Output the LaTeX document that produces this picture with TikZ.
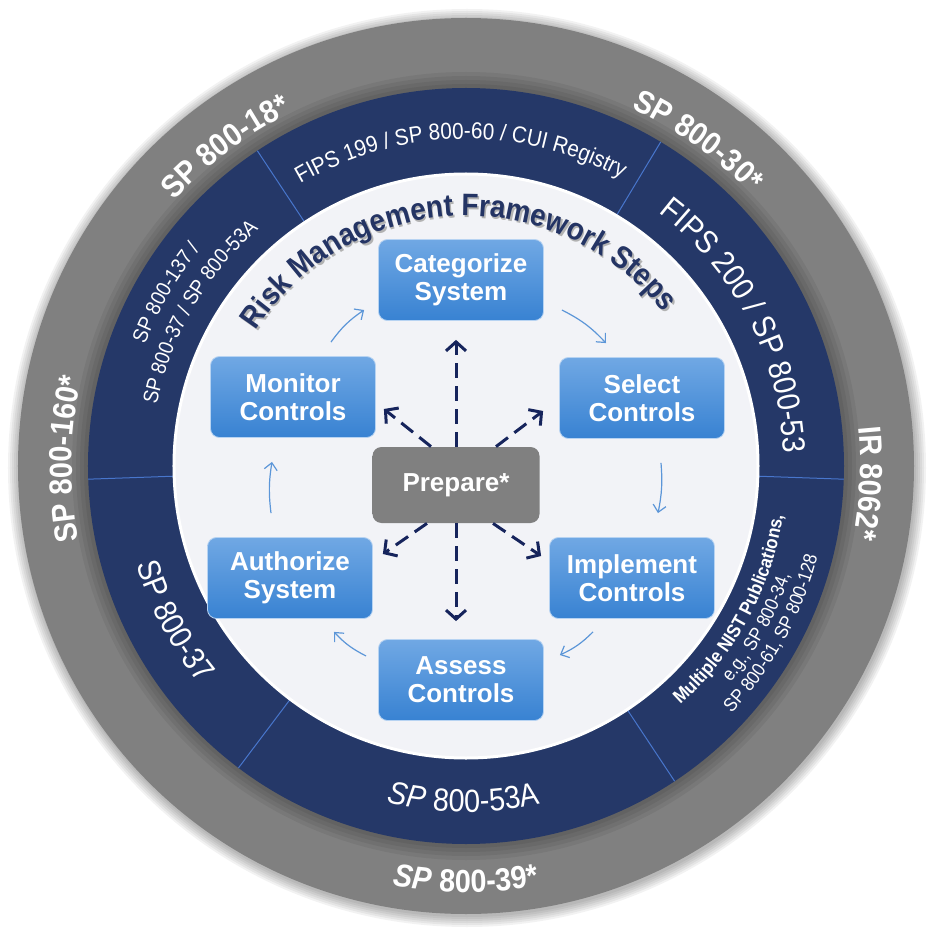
\documentclass[tikz,border=0pt]{standalone}
\usepackage{fontspec}
\setmainfont{Liberation Sans}
\newfontfamily\ringfont[FakeStretch=0.9]{Liberation Sans}
\usetikzlibrary{positioning,decorations.text,arrows.meta}

\definecolor{ringgray}{RGB}{128,128,128}
\definecolor{ringblue}{RGB}{37,56,104}
\definecolor{seamblue}{RGB}{72,118,204}
\definecolor{paper}{RGB}{242,243,247}
\definecolor{boxtop}{RGB}{112,168,228}
\definecolor{boxbot}{RGB}{56,130,210}
\definecolor{navy}{RGB}{22,36,92}
\definecolor{cycblue}{RGB}{92,150,216}
\definecolor{titlenavy}{RGB}{36,52,100}

\tikzset{
  stepbox/.style={draw=boxtop!50!white, line width=0.8pt, rounded corners=9pt,
    top color=boxtop, bottom color=boxbot, text=white, align=center,
    font=\bfseries\fontsize{26}{28}\selectfont,
    minimum width=165pt, minimum height=81pt, inner sep=0pt},
  prepbox/.style={stepbox, draw=none, top color=ringgray, bottom color=ringgray,
    minimum width=167pt, minimum height=76pt},
  cycarrow/.style={cycblue, line width=1.2pt, -{Straight Barb[length=7pt,width=13pt]}},
  preparrow/.style={navy, line width=3pt, dash pattern=on 15pt off 8pt,
    -{Straight Barb[length=9pt,width=20pt]}},
  ringtext/.style={decorate, decoration={text along path, text align=center,
    text color=white, text={#1}}}
}

\begin{document}
\begin{tikzpicture}[x=1pt,y=1pt]
\useasboundingbox (-466,-463) rectangle (468,466);
\fill[white] (-466,-463) rectangle (468,466);

% rings
\foreach \k in {12,10,...,2}
  \fill[black,opacity=0.05] (1,-2) circle[radius={(447+\k)*1pt}];
\fill[ringgray] (0,0) circle[radius=448pt];
\foreach \k in {16,12,8,4}
  \fill[black,opacity=0.06] (0,0) circle[radius={(378+\k)*1pt}];
\fill[ringblue] (0,0) circle[radius=378pt];
\foreach \a in {123.5,59,-2,-56.5,-127,182}
  \draw[seamblue,line width=1pt] (\a:292pt) -- (\a:378pt);
\fill[paper] (0,0) circle[radius=292pt];
\draw[white,line width=3pt] (0,0) circle[radius=292pt];

% outer ring labels
\path[ringtext={|\ringfont\bfseries\fontsize{32}{32}\selectfont|SP 800-18*}]
  (197:394pt) arc[start angle=197, end angle=57, radius=394pt];
\path[ringtext={|\ringfont\bfseries\fontsize{32}{32}\selectfont|SP 800-30*}]
  (124.5:394pt) arc[start angle=124.5, end angle=-15.5, radius=394pt];
\path[ringtext={|\ringfont\bfseries\fontsize{32}{32}\selectfont|IR 8062*}]
  (67.5:394pt) arc[start angle=67.5, end angle=-72.5, radius=394pt];
\path[ringtext={|\ringfont\bfseries\fontsize{32}{32}\selectfont|SP 800-160*}]
  (249:394pt) arc[start angle=249, end angle=109, radius=394pt];
\path[ringtext={|\ringfont\bfseries\itshape\fontsize{32}{32}\selectfont|SP |\ringfont\bfseries\upshape\fontsize{32}{32}\selectfont|800-39*}]
  (-160:426pt) arc[start angle=-160, end angle=-20, radius=426pt];

% inner ring labels
\path[ringtext={|\ringfont\fontsize{32}{32}\selectfont|FIPS 200 / SP 800-53}]
  (97.5:318pt) arc[start angle=97.5, end angle=-42.5, radius=318pt];
\path[ringtext={|\ringfont\fontsize{32}{32}\selectfont|SP 800-37}]
  (138:344pt) arc[start angle=138, end angle=278, radius=344pt];
\path[ringtext={|\ringfont\itshape\fontsize{32}{32}\selectfont|SP |\ringfont\upshape\fontsize{32}{32}\selectfont|800-53A}]
  (-160.4:346pt) arc[start angle=-160.4, end angle=-20.4, radius=346pt];
\path[ringtext={|\ringfont\fontsize{23}{23}\selectfont|FIPS 199 / SP 800-60 / CUI Registry}]
  (171:327pt) arc[start angle=171, end angle=11, radius=327pt];
\path[ringtext={|\ringfont\fontsize{21}{21}\selectfont|SP 800-137 /}]
  (220:343pt) arc[start angle=220, end angle=80, radius=343pt];
\path[ringtext={|\ringfont\fontsize{21}{21}\selectfont|SP 800-37 / SP 800-53A}]
  (220:315pt) arc[start angle=220, end angle=80, radius=315pt];
\path[ringtext={|\ringfont\bfseries\fontsize{19}{19}\selectfont|Multiple NIST Publications,}]
  (-98.5:321pt) arc[start angle=-98.5, end angle=41.5, radius=321pt];
\path[ringtext={|\ringfont\fontsize{19}{19}\selectfont|e.g., SP 800-34,}]
  (-99:342pt) arc[start angle=-99, end angle=41, radius=342pt];
\path[ringtext={|\ringfont\fontsize{19}{19}\selectfont|SP 800-61, SP 800-128}]
  (-98.7:363pt) arc[start angle=-98.7, end angle=41.3, radius=363pt];

% title on the inner circle
\path[decorate, decoration={text along path, text align=center, text color=black!30,
    text={|\ringfont\bfseries\fontsize{31}{31}\selectfont|Risk Management Framework Steps}}]
  ([shift={(1.5,-2)}]172.5:250pt) arc[start angle=172.5, end angle=12.5, radius=250pt];
\path[decorate, decoration={text along path, text align=center, text color=titlenavy,
    text={|\ringfont\bfseries\fontsize{31}{31}\selectfont|Risk Management Framework Steps}}]
  (172.5:250pt) arc[start angle=172.5, end angle=12.5, radius=250pt];

% steps
\node[stepbox] (cat) at (-5,186) {Categorize\\System};
\node[stepbox] (sel) at (176,68) {Select\\Controls};
\node[stepbox] (impl) at (166,-112) {Implement\\Controls};
\node[stepbox] (ass) at (-5,-214) {Assess\\Controls};
\node[stepbox] (auth) at (-176,-112) {Authorize\\System};
\node[stepbox] (mon) at (-173,69) {Monitor\\Controls};
\node[prepbox] (prep) at (-10,-19) {Prepare*};

% cycle
\draw[cycarrow] ([shift={(38,14)}]mon.north) to[bend left=10] ([shift={(-14,-30)}]cat.west);
\draw[cycarrow] ([shift={(18,-30)}]cat.east) to[bend left=10] ([shift={(-36,14)}]sel.north);
\draw[cycarrow] ([shift={(19,-24)}]sel.south) to[bend left=8] ([shift={(26,24)}]impl.north);
\draw[cycarrow] ([shift={(-39,-13)}]impl.south) to[bend left=10] ([shift={(16,25)}]ass.east);
\draw[cycarrow] ([shift={(-12,24)}]ass.west) to[bend left=10] ([shift={(44,-13)}]auth.south);
\draw[cycarrow] ([shift={(-19,24)}]auth.north) to[bend left=8] ([shift={(-21,-24)}]mon.south);

% prepare feeds every step
\draw[preparrow, shorten >=19pt] (prep.north) -- (prep.north |- cat.south);
\draw[preparrow, shorten >=18pt] (prep.south) -- (prep.south |- ass.north);
\draw[preparrow] ([xshift=-25pt]prep.north) -- ([shift={(8,-12)}]mon.east);
\draw[preparrow] ([xshift=40pt]prep.north) -- ([shift={(-16,-13)}]sel.west);
\draw[preparrow] ([xshift=-29pt]prep.south) -- ([shift={(10,24)}]auth.east);
\draw[preparrow] ([xshift=37pt]prep.south) -- ([shift={(-8,22)}]impl.west);
\end{tikzpicture}
\end{document}
